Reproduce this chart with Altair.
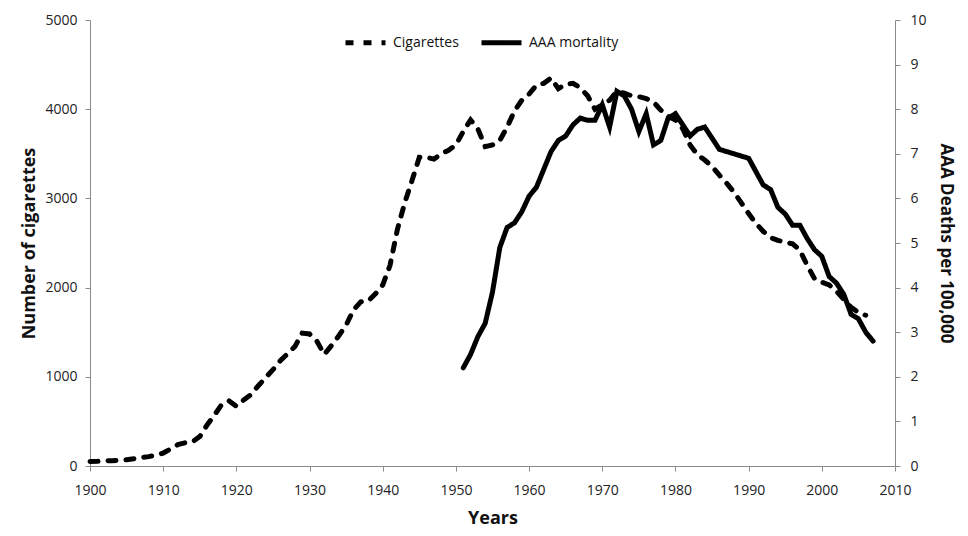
import altair as alt
import pandas as pd

cig_years = list(range(1900, 2007))
cig_values = [
    50, 52, 58, 60, 64, 70, 82, 95, 105, 120,          # 1900-1909
    145, 190, 240, 260, 270, 330, 460, 570, 690, 730,  # 1910-1919
    670, 740, 800, 900, 990, 1080, 1180, 1260, 1340, 1490,  # 1920-1929
    1480, 1400, 1250, 1350, 1460, 1580, 1750, 1840, 1850, 1930,  # 1930-1939
    2030, 2250, 2650, 2950, 3200, 3460, 3460, 3440, 3500, 3540,  # 1940-1949
    3600, 3750, 3880, 3780, 3580, 3600, 3650, 3800, 3980, 4100,  # 1950-1959
    4170, 4270, 4290, 4350, 4230, 4280, 4290, 4240, 4150, 4000,  # 1960-1969
    4050, 4100, 4200, 4180, 4150, 4140, 4120, 4080, 3990, 3920,  # 1970-1979
    3880, 3780, 3600, 3490, 3430, 3360, 3260, 3170, 3070, 2950,  # 1980-1989
    2830, 2720, 2630, 2560, 2530, 2510, 2490, 2420, 2250, 2100,  # 1990-1999
    2060, 2030, 1960, 1870, 1780, 1720, 1690,                    # 2000-2006
]

aaa_years = list(range(1951, 2008))
aaa_values = [
    2.2, 2.5, 2.9, 3.2, 3.9, 4.9, 5.35, 5.45, 5.7,       # 1951-1959
    6.05, 6.25, 6.65, 7.05, 7.3, 7.4, 7.65, 7.8, 7.75, 7.75,  # 1960-1969
    8.1, 7.6, 8.4, 8.3, 8.0, 7.5, 7.9, 7.2, 7.3, 7.8,    # 1970-1979
    7.9, 7.65, 7.4, 7.55, 7.6, 7.35, 7.1, 7.05, 7.0, 6.95,  # 1980-1989
    6.9, 6.6, 6.3, 6.2, 5.8, 5.65, 5.4, 5.4, 5.1, 4.85,  # 1990-1999
    4.7, 4.25, 4.1, 3.85, 3.4, 3.3, 3.0, 2.8,            # 2000-2007
]

series_names = ["Cigarettes", "AAA mortality"]
x_ticks = list(range(1900, 2011, 10))
left_ticks = [0, 1000, 2000, 3000, 4000, 5000]
right_ticks = list(range(0, 11))

cig = pd.DataFrame({"year": cig_years, "value": cig_values, "series": series_names[0]})
aaa = pd.DataFrame({"year": aaa_years, "value": aaa_values, "series": series_names[1]})

FONT = "Open Sans"
AX = dict(
    domainColor="#8a8a8a", tickColor="#8a8a8a", tickSize=5, grid=False,
    labelFont=FONT, labelFontSize=14, labelColor="#222222", labelFlush=False,
    titleFont=FONT, titleFontWeight="bold", titleColor="#111111",
)

x_enc = alt.X("year:Q", scale=alt.Scale(domain=[1900, 2010], nice=False, zero=False),
              axis=alt.Axis(values=x_ticks, format="d", title="Years", labelPadding=12,
                            titlePadding=12, titleFontSize=18, **AX))

dash_enc = alt.StrokeDash(
    "series:N",
    scale=alt.Scale(domain=series_names, range=[[8, 10], [1, 0]]),
    legend=alt.Legend(
        title=None, orient="none", direction="horizontal", legendX=253, legendY=0,
        symbolType="stroke", symbolSize=1600, symbolStrokeWidth=5,
        symbolStrokeColor="black", labelFont=FONT, labelFontSize=14,
        labelColor="#111111", columnPadding=12, labelOffset=5,
    ),
)

left = alt.Chart(cig).mark_line(color="black", strokeWidth=5, strokeCap="round").encode(
    x=x_enc,
    y=alt.Y("value:Q", scale=alt.Scale(domain=[0, 5000], nice=False),
            axis=alt.Axis(values=left_ticks, format="d", title="Number of cigarettes",
                          orient="left", labelPadding=8, titlePadding=6,
                          titleFontSize=18, **AX)),
    strokeDash=dash_enc,
)

right = alt.Chart(aaa).mark_line(color="black", strokeWidth=5, strokeCap="round").encode(
    x=x_enc,
    y=alt.Y("value:Q", scale=alt.Scale(domain=[0, 10], nice=False),
            axis=alt.Axis(values=right_ticks, format="d", title="AAA Deaths per 100,000",
                          orient="right", labelPadding=10, titlePadding=10,
                          titleFontSize=17, **AX)),
    strokeDash=dash_enc,
)

chart = alt.layer(left, right).resolve_scale(y="independent").properties(
    width=805, height=446,
    autosize=alt.AutoSizeParams(type="none"),
    padding={"left": 82, "top": 12, "right": 65, "bottom": 62},
).configure_view(stroke=None)

chart.save("out.html", embed_options={"renderer": "svg", "actions": False})
